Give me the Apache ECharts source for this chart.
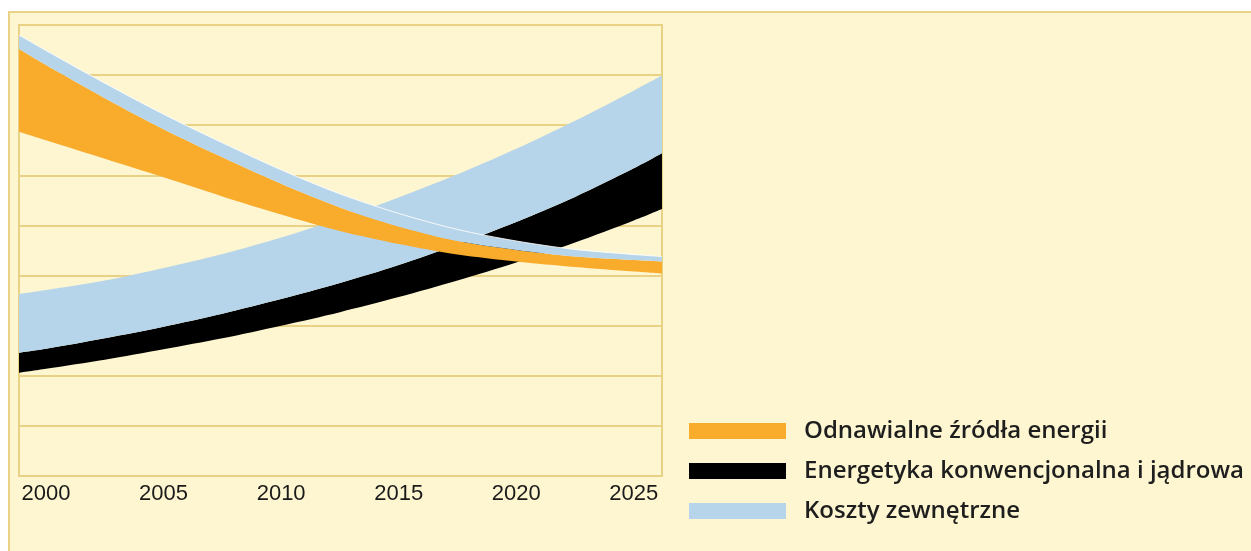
<!DOCTYPE html>
<html>
<head>
<meta charset="utf-8">
<script src="https://cdn.jsdelivr.net/npm/echarts@6/dist/echarts.min.js"></script>
<style>
html,body{margin:0;padding:0;background:#ffffff;}
#chart{width:1251px;height:551px;}
</style>
</head>
<body>
<div id="chart"></div>
<script>
// x positions (years); axis spans slightly beyond 2000..2025
const years = [1998.85, 2000, 2002.5, 2005, 2007.5, 2010, 2012.5, 2015, 2017.5, 2020, 2022.5, 2025, 2026.2];
const yearLabels = [2000, 2005, 2010, 2015, 2020, 2025];

// Conventional & nuclear energy band (black) and its external costs (blue) on top
const convLow      = [2.06, 2.14, 2.32, 2.53, 2.75, 3.00, 3.27, 3.57, 3.90, 4.26, 4.66, 5.10, 5.33];
const convHigh     = [2.46, 2.54, 2.75, 2.98, 3.24, 3.53, 3.85, 4.21, 4.62, 5.07, 5.57, 6.14, 6.44];
const convExternal = [3.63, 3.71, 3.90, 4.15, 4.43, 4.76, 5.14, 5.56, 6.02, 6.53, 7.09, 7.69, 7.99];

// Renewable energy band (orange) and its external costs (thin blue) on top
const renLow      = [6.87, 6.70, 6.33, 5.96, 5.58, 5.22, 4.89, 4.63, 4.42, 4.28, 4.17, 4.08, 4.04];
const renHigh     = [8.52, 8.20, 7.54, 6.92, 6.36, 5.83, 5.36, 4.98, 4.69, 4.51, 4.38, 4.31, 4.28];
const renExternal = [8.80, 8.49, 7.84, 7.22, 6.65, 6.11, 5.63, 5.24, 4.92, 4.69, 4.52, 4.42, 4.38];

const names = ['Odnawialne źródła energii', 'Energetyka konwencjonalna i jądrowa', 'Koszty zewnętrzne'];

const ORANGE = '#f9ab2c', BLACK = '#000000', BLUE = '#b7d5ea';
const CREAM = '#fef6d0', GOLD = '#e9d285';

// value first so that the stacked dimension is the y value
function pairs(vals) { return years.map((y, i) => [vals[i], y]); }
function diff(a, b) { return a.map((v, i) => +(v - b[i]).toFixed(3)); }

function band(name, stack, vals, color, z, extraLine) {
  return {
    name: name, type: 'line', stack: stack, smooth: 0.3, symbol: 'none', z: z,
    encode: { x: 1, y: 0 },
    data: pairs(vals),
    itemStyle: { color: color },
    lineStyle: extraLine || { width: 0, color: color },
    areaStyle: { color: color, opacity: 1 },
    silent: true
  };
}
function base(name, stack, vals, z) {
  return {
    name: name, type: 'line', stack: stack, smooth: 0.3, symbol: 'none', z: z,
    encode: { x: 1, y: 0 },
    data: pairs(vals), lineStyle: { width: 0, opacity: 0 }, silent: true
  };
}

const chart = echarts.init(document.getElementById('chart'));
chart.setOption({
  backgroundColor: '#ffffff',
  animation: false,
  graphic: [{
    type: 'rect', z: -10, silent: true,
    shape: { x: 9, y: 12, width: 1260, height: 560 },
    style: { fill: CREAM, stroke: GOLD, lineWidth: 2 }
  }],
  grid: {
    left: 19, top: 25, width: 643, height: 451,
    show: true, backgroundColor: CREAM, borderColor: GOLD, borderWidth: 2
  },
  legend: {
    data: names, orient: 'vertical', left: 689, top: 419, padding: 0,
    icon: 'rect', itemWidth: 97, itemHeight: 16, itemGap: 16,
    selectedMode: false,
    textStyle: { fontSize: 24, lineHeight: 24, fontFamily: 'Open Sans', fontWeight: 600, color: '#1e1e1e', padding: [0, 0, 0, 13] }
  },
  xAxis: {
    type: 'value', min: 1998.85, max: 2026.2,
    axisLine: { show: false }, axisTick: { show: false }, splitLine: { show: false },
    axisLabel: {
      customValues: yearLabels, margin: 7,
      fontSize: 22, fontFamily: 'Liberation Sans', color: '#1a1a1a',
      formatter: v => String(Math.round(v))
    }
  },
  yAxis: {
    type: 'value', min: 0, max: 9, interval: 1,
    axisLine: { show: false }, axisTick: { show: false }, axisLabel: { show: false },
    splitLine: { lineStyle: { color: GOLD, width: 2 } }
  },
  series: [
    base('_convBase', 'conv', convLow, 2),
    band(names[1], 'conv', diff(convHigh, convLow), BLACK, 2),
    band(names[2], 'conv', diff(convExternal, convHigh), BLUE, 2),
    base('_renBase', 'ren', renLow, 3),
    band(names[0], 'ren', diff(renHigh, renLow), ORANGE, 3),
    band(names[2], 'ren', diff(renExternal, renHigh), BLUE, 3, { width: 1, color: 'rgba(255,255,255,0.85)' })
  ]
});
</script>
</body>
</html>
